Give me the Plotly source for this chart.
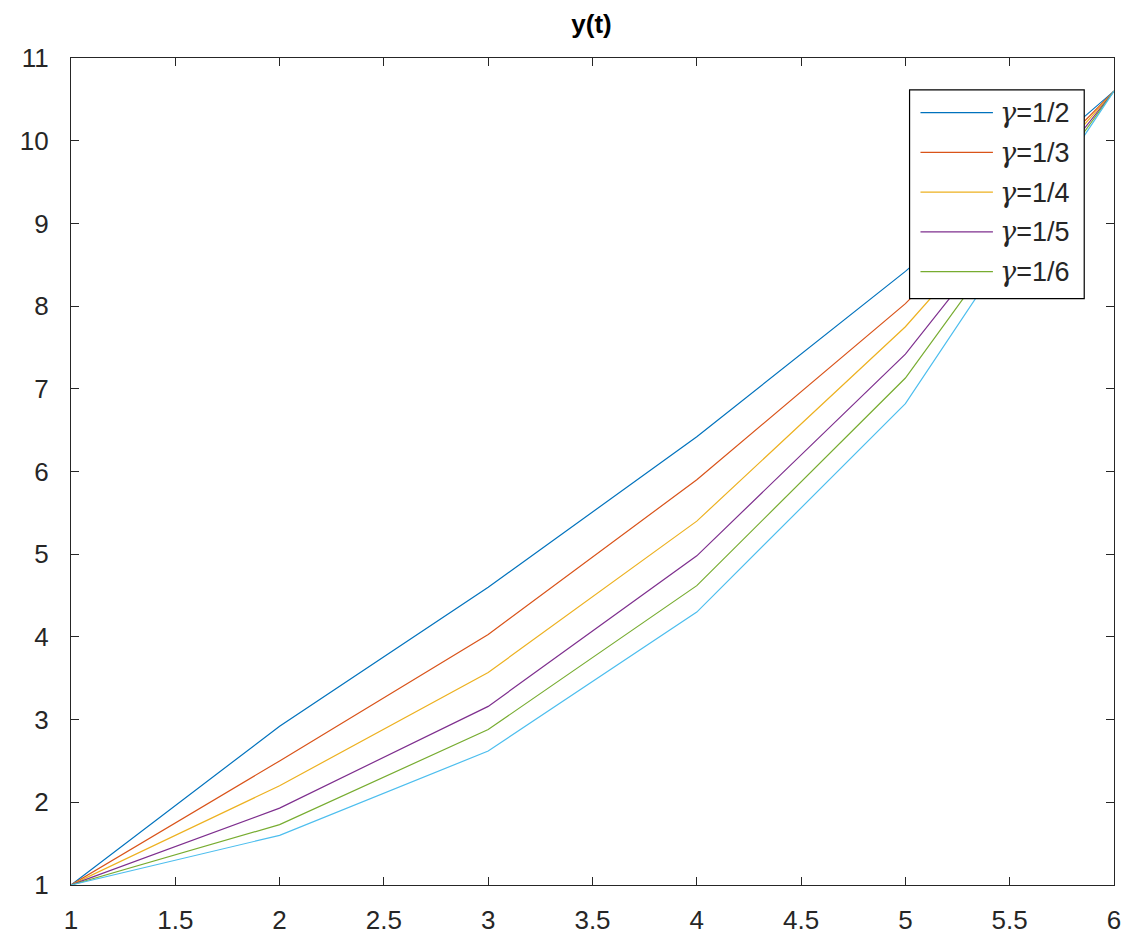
import plotly.graph_objects as go

# ---- data ----
t = [1, 2, 3, 4, 5, 6]
y_g2 = [1, 2.92, 4.60, 6.42, 8.42, 10.60]
y_g3 = [1, 2.50, 4.03, 5.90, 8.03, 10.60]
y_g4 = [1, 2.20, 3.57, 5.40, 7.75, 10.60]
y_g5 = [1, 1.93, 3.16, 4.98, 7.42, 10.60]
y_g6 = [1, 1.73, 2.88, 4.62, 7.13, 10.60]
y_g7 = [1, 1.60, 2.62, 4.30, 6.82, 10.60]
legend_labels = ["1/2", "1/3", "1/4", "1/5", "1/6"]
x_ticks = [1, 1.5, 2, 2.5, 3, 3.5, 4, 4.5, 5, 5.5, 6]
y_ticks = list(range(1, 12))

series = [y_g2, y_g3, y_g4, y_g5, y_g6, y_g7]
colors = ["#0072BD", "#D95319", "#EDB120", "#7E2F8E", "#77AC30", "#4DBEEE"]

OFF = 8  # page body margin
W, H = 1125, 939
SL, SR, ST, SB = 66, 1117, 58, 890  # plot area in screen pixels
L, T = SL - OFF, ST - OFF
R, B = W + OFF - SR, H + OFF - SB
pw, ph = SR - SL, SB - ST

def px(x):
    return (x - SL) / pw

def py(y):
    return (SB - y) / ph

fig = go.Figure()
for i, ys in enumerate(series):
    name = "γ=" + legend_labels[i] if i < len(legend_labels) else "γ=1/7"
    fig.add_trace(go.Scatter(x=t, y=ys, mode="lines", name=name,
                             line=dict(color=colors[i], width=1.2),
                             showlegend=False))

axis_col = "#262626"
font_fam = "Liberation Sans, Arial, sans-serif"

shapes = [dict(type="rect", xref="paper", yref="paper",
               x0=px(911), x1=px(1087), y0=py(300), y1=py(90),
               fillcolor="white", line=dict(color="black", width=1.2),
               layer="above")]
annotations = []
for i, lab in enumerate(legend_labels):
    yy = py(113 + 40 * i)
    shapes.append(dict(type="line", xref="paper", yref="paper",
                       x0=px(922), x1=px(995), y0=yy, y1=yy,
                       line=dict(color=colors[i], width=1.2), layer="above"))
    annotations.append(dict(xref="paper", yref="paper", x=px(1000), y=yy,
                            xanchor="left", yanchor="middle", showarrow=False,
                            text='<span style="font-family:DejaVu Serif;font-style:italic">γ</span>=' + lab,
                            font=dict(size=27, color=axis_col, family=font_fam)))

fig.update_layout(
    width=W, height=H,
    margin=dict(l=L, r=R, t=T, b=B),
    paper_bgcolor="white", plot_bgcolor="white",
    showlegend=False,
    title=dict(text="<b>y(t)</b>", x=(591.5 - OFF) / W, xanchor="center",
               y=1 - 7 / H, yanchor="top", yref="container",
               font=dict(size=26, color="black", family=font_fam)),
    shapes=shapes, annotations=annotations,
    font=dict(family=font_fam, color=axis_col),
)
common = dict(showline=True, linecolor=axis_col, linewidth=1.3, mirror="ticks",
              ticks="inside", ticklen=8, tickcolor=axis_col, tickwidth=1.3,
              showgrid=False, zeroline=False,
              tickfont=dict(size=26, color=axis_col, family=font_fam))
fig.update_xaxes(range=[1, 6], tickvals=x_ticks, ticktext=[f"{v:g}" for v in x_ticks],
                 ticklabelstandoff=12, **common)
fig.update_yaxes(range=[1, 11], tickvals=y_ticks, ticktext=[str(v) for v in y_ticks],
                 ticklabelstandoff=16, **common)

fig.write_html("out.html")
